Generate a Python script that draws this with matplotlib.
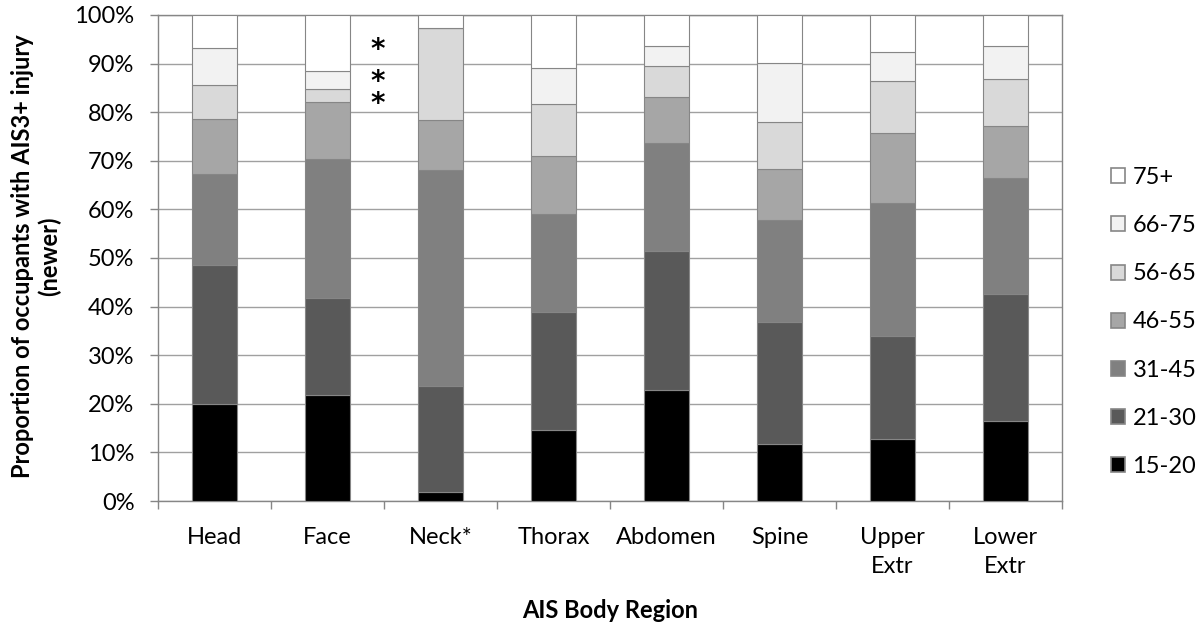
import numpy as np
import matplotlib
matplotlib.use('Agg')
import matplotlib.pyplot as plt
from matplotlib.patches import Rectangle

plt.rcParams['font.family'] = ['Lato', 'DejaVu Sans']

regions = ['Head', 'Face', 'Neck*', 'Thorax', 'Abdomen', 'Spine', 'Upper\nExtr', 'Lower\nExtr']
age_groups = ['15-20', '21-30', '31-45', '46-55', '56-65', '66-75', '75+']
colors = ['#000000', '#595959', '#808080', '#a6a6a6', '#d9d9d9', '#f2f2f2', '#ffffff']

# share (%) of each age group per body region
age_15_20 = [20.0, 21.8, 1.9, 14.6, 22.9, 11.7, 12.8, 16.4]
age_21_30 = [28.5, 20.0, 21.7, 24.3, 28.5, 25.2, 21.1, 26.2]
age_31_45 = [18.8, 28.5, 44.6, 20.2, 22.3, 21.0, 27.4, 23.9]
age_46_55 = [11.2, 11.7, 10.1, 11.9, 9.4, 10.4, 14.4, 10.6]
age_56_65 = [7.1, 2.7, 19.1, 10.6, 6.4, 9.7, 10.7, 9.7]
age_66_75 = [7.7, 3.7, 0.0, 7.4, 4.2, 12.2, 5.9, 6.8]
age_75_up = [6.7, 11.6, 2.6, 11.0, 6.3, 9.8, 7.7, 6.4]

series = [age_15_20, age_21_30, age_31_45, age_46_55, age_56_65, age_66_75, age_75_up]

edge = '#868686'
fs = 17
fig = plt.figure(figsize=(11.96, 6.26), dpi=100)
ax = fig.add_axes([158 / 1196, 125 / 626, 904 / 1196, 486 / 626])

x = np.arange(len(regions))
bottom = np.zeros(len(regions))
for vals, col in zip(series, colors):
    vals = np.array(vals)
    ax.bar(x, vals, 0.4, bottom=bottom, color=col, edgecolor=edge, linewidth=0.8, zorder=3)
    bottom += vals

ax.set_xlim(-0.5, len(regions) - 0.5)
ax.set_ylim(0, 100)
ax.set_yticks(np.arange(0, 101, 10))
ax.set_yticklabels(['%d%%' % v for v in range(0, 101, 10)], fontsize=fs)
ax.yaxis.grid(True, color='#a0a0a0', linewidth=1.0, zorder=0)
ax.set_axisbelow(True)

ax.set_xticks(x)
ax.set_xticklabels(regions, fontsize=fs, linespacing=1.45)
ax.set_xticks(np.arange(len(regions) + 1) - 0.5, minor=True)
ax.tick_params(axis='x', which='major', length=0, pad=19)
ax.tick_params(axis='x', which='minor', length=6, color=edge, width=1)
ax.tick_params(axis='y', length=6, color=edge, width=1, pad=11)

for s in ax.spines.values():
    s.set_color(edge)
    s.set_linewidth(1)

# significance marks
ax.text(1.44, 92.8, '*', fontsize=20, fontweight='bold', ha='center', va='center',
        family='DejaVu Sans', zorder=5)
ax.text(1.44, 84.0, '*\n*', fontsize=20, fontweight='bold', ha='center', va='center',
        family='DejaVu Sans', linespacing=0.75, zorder=5)

fig.text(610 / 1196, 1 - 611 / 626, 'AIS Body Region', fontsize=fs, fontweight='bold',
         ha='center', va='center')
fig.text(36 / 1196, 1 - 256 / 626, 'Proportion of occupants with AIS3+ injury\n(newer)',
         fontsize=fs, fontweight='bold', ha='center', va='center', rotation=90,
         multialignment='center', linespacing=1.15)

handles = [Rectangle((0, 0), 1, 1, facecolor=c, edgecolor=edge, linewidth=1.2) for c in colors]
leg = fig.legend(handles[::-1], age_groups[::-1], loc='center left',
                 bbox_to_anchor=(1090 / 1196, 1 - 322 / 626), frameon=False, fontsize=fs,
                 handlelength=0.6, handleheight=0.6, handletextpad=0.3, labelspacing=1.15)

fig.savefig('out.png', dpi=100)
